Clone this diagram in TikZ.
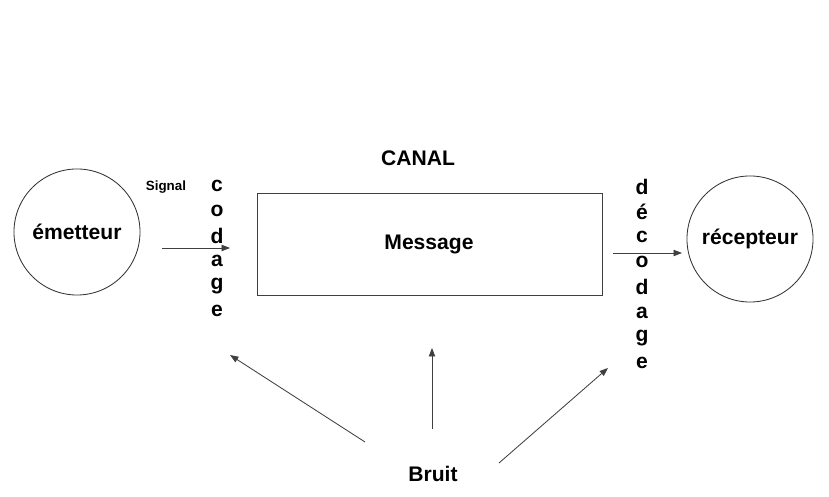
\documentclass[tikz,border=0pt]{standalone}
\usepackage{fontspec}
\setmainfont{Liberation Sans}
\usetikzlibrary{arrows.meta}

\begin{document}
\begin{tikzpicture}[x=0.025cm,y=0.025cm,
  big/.style={font=\bfseries\fontsize{15}{18}\selectfont},
  small/.style={font=\bfseries\fontsize{9.5}{11}\selectfont},
  pole/.style={draw=black!80,line width=0.6pt,circle,minimum size=3.15cm,inner sep=0pt},
  fleche/.style={draw=black!75,line width=0.6pt,-{Triangle[length=6pt,width=4.5pt]}}]
\useasboundingbox (0,0) rectangle (829,497);

% poles
\node[pole,big] (emetteur) at (77,265) {émetteur};
\node[pole,big] (recepteur) at (750,258) {récepteur};

% canal
\draw[draw=black!75,line width=0.6pt] (257,304) rectangle (602,202);
\node[big] (message) at (429,253) {Message};
\node[big] (canal) at (418,339) {CANAL};
\node[small] (signal) at (166,310) {Signal};

% lettres verticales
\foreach \lettre [count=\i] in {c,o,d,a,g,e}
  \node[big] (cod\i) at (217,311-25*\i+25) {\lettre};
\foreach \lettre [count=\i] in {d,é,c,o,d,a,g,e}
  \node[big] (dec\i) at (642,310-25.1*\i+25.1) {\lettre};

\coordinate (sigA) at (162,249);
\coordinate (sigB) at (230,249);
\coordinate (sigC) at (613,244);
\coordinate (sigD) at (682,244);
\draw[fleche] (sigA) -- (sigB);
\draw[fleche] (sigC) -- (sigD);

% bruit
\node[big] (bruit) at (433,23) {Bruit};
\coordinate (b1) at (365,55);
\coordinate (b2) at (432,68);
\coordinate (b3) at (499,34);
\coordinate (n1) at (230,142);
\coordinate (n2) at (432,149);
\coordinate (n3) at (608,129);
\foreach \k in {1,2,3}
  \draw[fleche] (b\k) -- (n\k);
\end{tikzpicture}
\end{document}
